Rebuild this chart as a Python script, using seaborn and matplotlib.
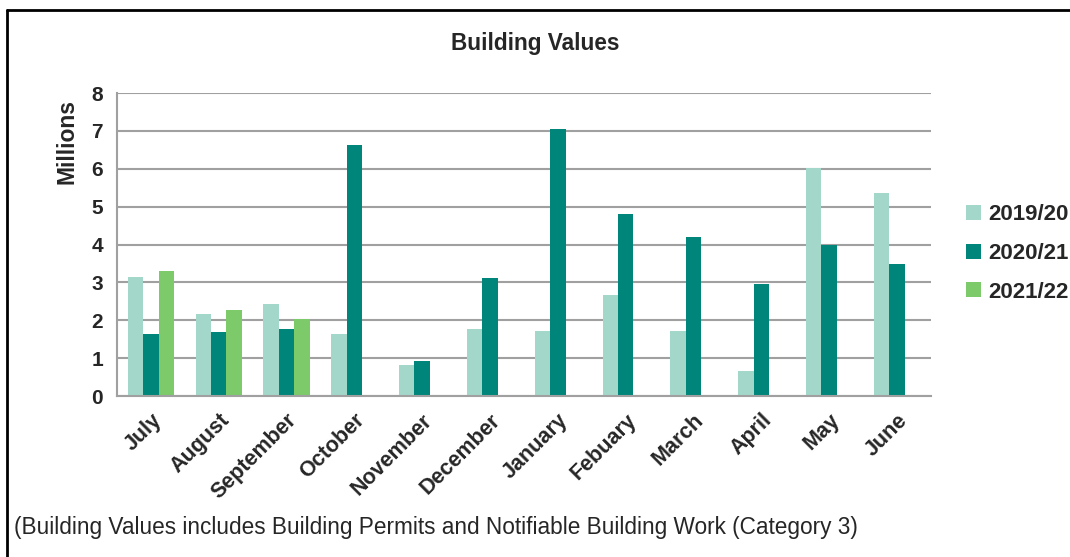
import numpy as np
import pandas as pd
import matplotlib
matplotlib.use("Agg")
import matplotlib.pyplot as plt
from matplotlib.lines import Line2D
import seaborn as sns

# ---- data (millions) ----
months = ["July", "August", "September", "October", "November", "December",
          "January", "Febuary", "March", "April", "May", "June"]
seasons = ["2019/20", "2020/21", "2021/22"]
v_2019_20 = [3.15, 2.17, 2.44, 1.65, 0.83, 1.76, 1.73, 2.66, 1.73, 0.67, 6.03, 5.36]
v_2020_21 = [1.65, 1.68, 1.77, 6.63, 0.93, 3.11, 7.05, 4.80, 4.20, 2.97, 3.98, 3.49]
v_2021_22 = [3.30, 2.26, 2.03]  # only first three months reported
colors = ["#a3d7c9", "#00857a", "#7dca6a"]

rows = []
for m, a, b in zip(months, v_2019_20, v_2020_21):
    rows.append((m, "2019/20", a))
    rows.append((m, "2020/21", b))
for m, c in zip(months, v_2021_22):
    rows.append((m, "2021/22", c))
df = pd.DataFrame(rows, columns=["month", "season", "value"])

sns.set_style("white")
plt.rcParams["font.family"] = ["Liberation Sans", "DejaVu Sans"]

fig = plt.figure(figsize=(10.7, 5.57), dpi=100)
ax = fig.add_axes([0.1093, 0.289, 0.7607, 0.544])

sns.barplot(data=df, x="month", y="value", hue="season", order=months,
            hue_order=seasons, palette=colors, width=0.68, errorbar=None,
            saturation=1, linewidth=0, ax=ax)

ax.set_ylim(0, 8)
ax.set_xlim(-0.5, 11.5)
ax.set_yticks(range(0, 9))
ax.yaxis.grid(True, color="#a0a0a0", linewidth=1.5)
ax.set_axisbelow(True)
for s in ["top", "right"]:
    ax.spines[s].set_visible(False)
for s in ["left", "bottom"]:
    ax.spines[s].set_color("#a0a0a0")
    ax.spines[s].set_linewidth(1.5)

ax.tick_params(axis="y", length=6, width=1.5, color="#a0a0a0", labelsize=15, pad=4)
ax.set_xticks(np.arange(-0.5, 12, 1), minor=True)
ax.tick_params(axis="x", which="minor", length=6, width=1.5, color="#a0a0a0")
ax.tick_params(axis="x", which="major", length=0, pad=10)
for lab in ax.get_yticklabels():
    lab.set_fontweight("bold")
ax.set_xticks(range(12))
ax.set_xticklabels(months, rotation=45, ha="right", rotation_mode="anchor",
                   fontweight="bold", fontsize=15.5)
ax.set_xlabel("")
ax.set_ylabel("Millions", fontsize=16.5, fontweight="bold")
ax.yaxis.set_label_coords(-0.047, 0.84)

handles, labels = ax.get_legend_handles_labels()
ax.get_legend().remove()
fig.legend(handles, labels, loc="center left", bbox_to_anchor=(0.903, 0.545),
           frameon=False, prop={"weight": "bold", "size": 16},
           borderpad=0, borderaxespad=0,
           handlelength=0.65, handleheight=0.65, handletextpad=0.35,
           labelspacing=0.8)

fig.text(0.5, 0.922, "Building Values", ha="center", va="center",
         fontsize=16.3, fontweight="bold")
fig.text(0.013, 0.053, "(Building Values includes Building Permits and Notifiable Building Work (Category 3)",
         ha="left", va="center", fontsize=16.3)

# frame around the chart area (top and left edges visible)
fig.add_artist(Line2D([7 / 1070, 7 / 1070], [0, 1 - 10 / 557], color="black", lw=2))
fig.add_artist(Line2D([7 / 1070, 1], [1 - 10 / 557, 1 - 10 / 557], color="black", lw=2))

fig.savefig("out.png", dpi=100)
